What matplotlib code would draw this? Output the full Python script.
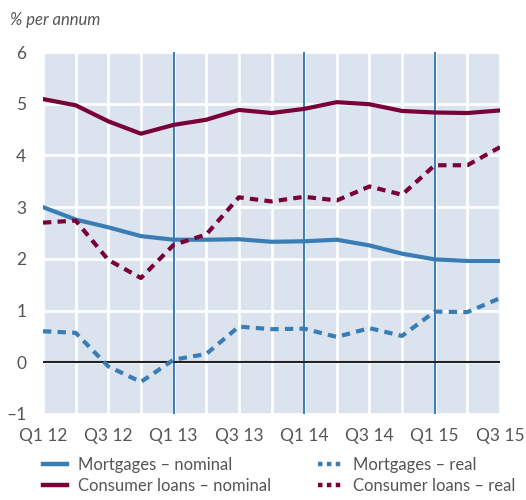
import numpy as np
from matplotlib import pyplot as plt
from matplotlib.lines import Line2D

quarters = ['Q1 12', 'Q2 12', 'Q3 12', 'Q4 12', 'Q1 13', 'Q2 13', 'Q3 13', 'Q4 13',
            'Q1 14', 'Q2 14', 'Q3 14', 'Q4 14', 'Q1 15', 'Q2 15', 'Q3 15']
mortgages_nominal = [3.00, 2.76, 2.61, 2.44, 2.37, 2.37, 2.38, 2.33,
                     2.34, 2.37, 2.26, 2.10, 1.99, 1.96, 1.96]
mortgages_real = [0.60, 0.57, -0.08, -0.38, 0.05, 0.16, 0.69, 0.64,
                  0.65, 0.49, 0.66, 0.51, 0.98, 0.97, 1.24]
consumer_nominal = [5.09, 4.97, 4.66, 4.42, 4.59, 4.69, 4.88, 4.82,
                    4.90, 5.03, 4.99, 4.86, 4.83, 4.82, 4.87]
consumer_real = [2.70, 2.74, 1.98, 1.63, 2.27, 2.47, 3.19, 3.11,
                 3.20, 3.13, 3.40, 3.24, 3.81, 3.81, 4.16]
year_starts = ['Q1 13', 'Q1 14', 'Q1 15']

blue = '#3a7db5'
maroon = '#7a0038'
text_grey = '#555555'

plt.rcParams['font.family'] = ['Lato', 'DejaVu Sans']

fig = plt.figure(figsize=(5.26, 5.0), dpi=100)
ax = fig.add_axes([43 / 526, 1 - 414 / 500, 457 / 526, 362 / 500])
ax.set_facecolor('#dae3ee')

x = np.arange(len(quarters))
ax.set_xlim(0, len(quarters) - 1)
ax.set_ylim(-1, 6)

ax.set_xticks(x)
ax.set_xticklabels([q if i % 2 == 0 else '' for i, q in enumerate(quarters)])
ax.set_yticks(range(-1, 7))
ax.set_yticklabels(['–1', '0', '1', '2', '3', '4', '5', '6'])
ax.tick_params(length=0, labelsize=12.5, colors=text_grey)
ax.tick_params(axis='x', pad=10)
ax.tick_params(axis='y', pad=12)
ax.grid(True, color='white', linewidth=2)
ax.set_axisbelow(True)
for s in ax.spines.values():
    s.set_visible(False)

for q in year_starts:
    ax.axvline(quarters.index(q), color=blue, linewidth=1.4, zorder=1.5)
ax.axhline(0, color='#222222', linewidth=1.5, zorder=1.6)

dots = (0, (2.0, 1.5))
ax.plot(x, mortgages_nominal, color=blue, lw=3.0, zorder=3)
ax.plot(x, consumer_nominal, color=maroon, lw=3.0, zorder=3)
ax.plot(x, mortgages_real, color=blue, lw=3.0, ls=dots, zorder=3)
ax.plot(x, consumer_real, color=maroon, lw=3.0, ls=dots, zorder=3)

fig.text(10 / 526, 1 - 20 / 500, '% per annum', fontsize=12, style='italic',
         color=text_grey, va='center')

sq = (0, (1.0, 1.0))
left_handles = [Line2D([], [], color=blue, lw=3.2), Line2D([], [], color=maroon, lw=3.2)]
right_handles = [Line2D([], [], color=blue, lw=3.2, ls=sq), Line2D([], [], color=maroon, lw=3.2, ls=sq)]
legend_kw = dict(loc='upper left', frameon=False, fontsize=12, labelcolor=text_grey,
                 handlelength=1.45, handletextpad=0.65, labelspacing=0.3, borderpad=0,
                 borderaxespad=0)
fig.legend(left_handles, ['Mortgages – nominal', 'Consumer loans – nominal'],
           bbox_to_anchor=(43 / 526, 1 - 457 / 500), **legend_kw)
fig.legend(right_handles, ['Mortgages – real', 'Consumer loans – real'],
           bbox_to_anchor=(318 / 526, 1 - 457 / 500), **legend_kw)

fig.savefig('out.png', dpi=100)
